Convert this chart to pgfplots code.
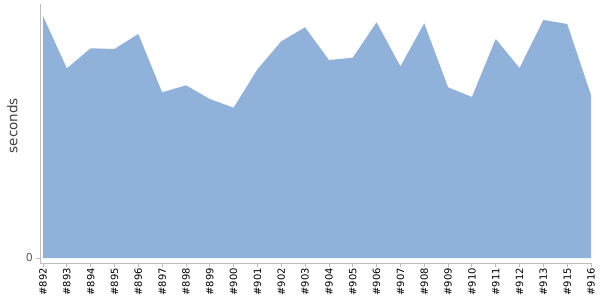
\documentclass[border=0pt]{standalone}
\usepackage{pgfplots}
\pgfplotsset{compat=1.18}
\usepackage{fontspec}
\setmainfont{DejaVu Sans}
\definecolor{areafill}{RGB}{143,177,218}
\definecolor{axisgray}{RGB}{190,190,190}
\begin{document}
\begin{tikzpicture}[x=1bp,y=1bp]
\useasboundingbox (0,0) rectangle (600,300);
\begin{axis}[
  at={(40bp,37bp)}, anchor=south west,
  scale only axis, width=551bp, height=259bp,
  xmin=-0.126, xmax=23, ymin=-5, ymax=254,
  axis x line*=bottom, axis y line*=left,
  axis line style={-, draw=axisgray, line width=0.8pt},
  xtick={0,...,23},
  xticklabels={\#892,\#893,\#894,\#895,\#896,\#897,\#898,\#899,\#900,\#901,\#902,\#903,\#904,\#905,\#906,\#907,\#908,\#909,\#910,\#911,\#912,\#913,\#915,\#916},
  x tick label style={rotate=90, anchor=east, font=\fontsize{10}{11}\selectfont, inner sep=1bp, xshift=0bp},
  ytick={0},
  y tick label style={font=\fontsize{11}{12}\selectfont, text=black!65, inner sep=3bp},
  tick style={draw=axisgray, line width=0.8pt},
  major tick length=4bp,
  tick align=outside,
  ylabel={seconds},
  ylabel style={font=\fontsize{13.5}{14}\selectfont, text=black!75, at={(axis description cs:0,0.53)}, anchor=south, yshift=19bp},
  /pgf/number format/assume math mode=true,
  clip=false,
]
\addplot[fill=areafill, draw=none] coordinates {
(0,242) (1,189.7) (2,209.7) (3,209) (4,224) (5,165.7) (6,172.7) (7,159) (8,150.3) (9,188.7) (10,216.7) (11,230.7) (12,198) (13,200.3) (14,235.7) (15,191.7) (16,234.7) (17,170.7) (18,161) (19,219) (20,190) (21,238) (22,234) (23,163)
} \closedcycle;
\end{axis}
\end{tikzpicture}
\end{document}
